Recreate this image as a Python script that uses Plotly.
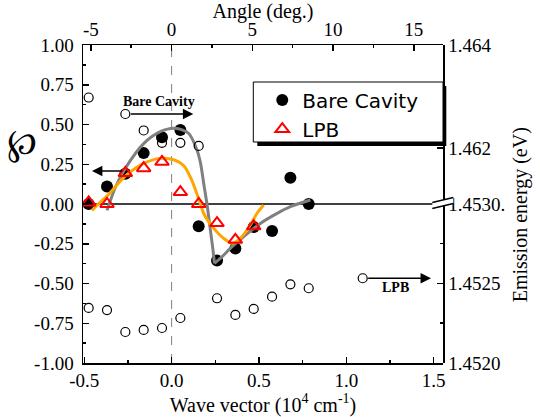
import plotly.graph_objects as go

# ---------------- data ----------------
# polarization degree (left axis) vs wave vector (10^4 cm^-1)
k_bare = [-0.475, -0.37, -0.265, -0.16, -0.055, 0.05, 0.155, 0.26, 0.365, 0.47, 0.575, 0.68, 0.785]
p_bare = [0.0, 0.11, 0.19, 0.32, 0.42, 0.465, -0.14, -0.355, -0.28, -0.145, -0.17, 0.165, 0.0]

k_lpb = [-0.475, -0.37, -0.265, -0.16, -0.055, 0.05, 0.155, 0.26, 0.365, 0.47]
p_lpb = [0.01, 0.0, 0.195, 0.225, 0.265, 0.075, 0.0, -0.12, -0.225, -0.14]

# fitted curves
gray_fall_k = [-0.37, -0.32, -0.265, -0.16, -0.065, 0.02, 0.097, 0.145, 0.165, 0.185, 0.205, 0.222, 0.237, 0.245]
gray_fall_p = [-0.04, 0.11, 0.225, 0.38, 0.455, 0.476, 0.445, 0.34, 0.26, 0.12, -0.02, -0.164, -0.29, -0.373]
gray_rise_k = [0.245, 0.289, 0.346, 0.412, 0.508, 0.604, 0.68, 0.794]
gray_rise_p = [-0.373, -0.331, -0.268, -0.206, -0.122, -0.059, -0.017, 0.025]

orange_k = [-0.456, -0.42, -0.37, -0.265, -0.16, -0.065, 0.02, 0.07, 0.115, 0.165, 0.183,
            0.241, 0.298, 0.346, 0.393, 0.451, 0.489, 0.527]
orange_p = [-0.04, 0.0, 0.05, 0.175, 0.255, 0.287, 0.275, 0.24, 0.15, 0.0, -0.058,
            -0.153, -0.216, -0.247, -0.216, -0.132, -0.058, -0.006]

# emission energies (right axis, eV)
k_bare_E = [-0.475, -0.16, -0.055, 0.05, 0.155]
E_bare = [1.46298, 1.46234, 1.46210, 1.46210, 1.46204]
k_lpb_E = [-0.475, -0.37, -0.265, -0.16, -0.055, 0.05, 0.26, 0.365, 0.47, 0.575, 0.68, 0.785]
E_lpb = [1.452346, 1.452333, 1.452195, 1.452208, 1.452220, 1.452283, 1.452407, 1.452302,
         1.452340, 1.452417, 1.452495, 1.452470]

# axis-indicator arrows (tail marker, head)
bare_arrow_k = [-0.265, 0.124]
bare_arrow_E = 1.46266
lpb_arrow_k = [1.094, 1.485]
lpb_arrow_E = 1.452533
left_arrow_k = [-0.275, -0.456]
left_arrow_p = 0.2075

# tick labels
x_ticks = [-0.5, 0.0, 0.5, 1.0, 1.5]
x_ticktext = ["-0.5", "0.0", "0.5", "1.0", "1.5"]
ang_ticks = [-5, 0, 5, 10, 15]
ang_ticktext = ["-5", "0", "5", "10", "15"]
y_ticks = [-1.0, -0.75, -0.5, -0.25, 0.0, 0.25, 0.5, 0.75, 1.0]
y_ticktext = ["-1.00", "-0.75", "-0.50", "-0.25", "0.00", "0.25", "0.50", "0.75", "1.00"]
e_up_ticks = [1.462, 1.464]
e_up_ticktext = ["1.462", "1.464"]
e_lo_ticks = [1.4520, 1.4525, 1.4530]
e_lo_ticktext = ["1.4520", "1.4525", "1.4530."]

SERIF = "Liberation Serif"
SANS = "DejaVu Sans"
BREAK = 0.5126

fig = go.Figure()

open_marker = dict(symbol="circle-open", size=9, color="black", line=dict(width=1.2, color="black"))
# open circles: energies
fig.add_trace(go.Scatter(x=k_bare_E, y=E_bare, xaxis="x", yaxis="y3", mode="markers",
                         marker=open_marker, showlegend=False))
fig.add_trace(go.Scatter(x=k_lpb_E, y=E_lpb, xaxis="x", yaxis="y4", mode="markers",
                         marker=open_marker, showlegend=False))
fig.add_trace(go.Scatter(x=[bare_arrow_k[0]], y=[bare_arrow_E], xaxis="x", yaxis="y3", mode="markers",
                         marker=open_marker, showlegend=False))
fig.add_trace(go.Scatter(x=[lpb_arrow_k[0]], y=[lpb_arrow_E], xaxis="x", yaxis="y4", mode="markers",
                         marker=open_marker, showlegend=False))

# filled circles
fig.add_trace(go.Scatter(x=k_bare, y=p_bare, mode="markers", name="Bare Cavity",
                         marker=dict(symbol="circle", size=12, color="black")))

# fits
fig.add_trace(go.Scatter(x=gray_fall_k, y=gray_fall_p, mode="lines", showlegend=False,
                         line=dict(color="#808080", width=3, shape="spline", smoothing=0.8)))
fig.add_trace(go.Scatter(x=gray_rise_k, y=gray_rise_p, mode="lines", showlegend=False,
                         line=dict(color="#808080", width=3, shape="spline", smoothing=0.8)))
fig.add_trace(go.Scatter(x=orange_k, y=orange_p, mode="lines", showlegend=False,
                         line=dict(color="#FFA500", width=3, shape="spline", smoothing=0.8)))

# triangles
fig.add_trace(go.Scatter(x=k_lpb, y=p_lpb, mode="markers", name="LPB",
                         marker=dict(symbol="triangle-up-open", size=12, color="#FF0000",
                                     line=dict(width=2, color="#FF0000"))))

# dummy trace to activate the top (angle) axis
fig.add_trace(go.Scatter(x=[ang_ticks[0]], y=[0], xaxis="x2", yaxis="y", mode="markers",
                         marker=dict(opacity=0), showlegend=False, hoverinfo="skip"))

tickfont = dict(family=SERIF, size=19, color="black")
common = dict(showgrid=False, zeroline=False, showline=True, linecolor="black", linewidth=1.5,
              ticks="inside", ticklen=6, tickwidth=1.5, tickcolor="black", tickfont=tickfont,
              automargin=False)
minor_common = dict(ticks="inside", ticklen=3, tickwidth=1.5, tickcolor="black")

fig.update_layout(
    width=540, height=417,
    margin=dict(l=83, r=97, t=45, b=54),
    font=dict(family=SERIF, color="black"),
    paper_bgcolor="white", plot_bgcolor="rgba(0,0,0,0)",
    xaxis=dict(range=[-0.5074, 1.5538], tickvals=x_ticks, ticktext=x_ticktext, anchor="y",
               minor=dict(tickvals=[-0.25, 0.25, 0.75, 1.25], **minor_common),
               title=dict(text="Wave vector (10<sup>4</sup> cm<sup>-1</sup>)",
                          font=dict(family=SERIF, size=20, color="black"), standoff=0),
               **common),
    xaxis2=dict(range=[-5.486, 16.805], overlaying="x", side="top", anchor="y",
                tickvals=ang_ticks, ticktext=ang_ticktext,
                minor=dict(tickvals=[-2.5, 2.5, 7.5, 12.5], **minor_common),
                title=dict(text="Angle (deg.)", font=dict(family=SERIF, size=20, color="black"),
                           standoff=2),
                **common),
    yaxis=dict(range=[-1, 1], domain=[0, 1], tickvals=y_ticks, ticktext=y_ticktext, anchor="x",
               minor=dict(tickvals=[-0.875, -0.625, -0.375, -0.125, 0.125, 0.375, 0.625, 0.875],
                          **minor_common),
               ticklabelstandoff=4,
               **common),
    yaxis3=dict(range=[1.46099, 1.46400001], domain=[BREAK, 1], anchor="x", side="right",
                tickvals=e_up_ticks, ticktext=e_up_ticktext,
                minor=dict(tickvals=[1.463], **minor_common),
                **common),
    yaxis4=dict(range=[1.452, 1.453025], domain=[0, BREAK], anchor="x", side="right",
                tickvals=e_lo_ticks, ticktext=e_lo_ticktext,
                minor=dict(tickvals=[1.45225, 1.45275], **minor_common),
                **common),
    legend=dict(x=0.498, y=0.888, xanchor="left", yanchor="top", bgcolor="rgba(0,0,0,0)",
                borderwidth=0, font=dict(family=SANS, size=20, color="black")),
    hovermode=False,
)

def px2paper(px, py):
    return (px - 82.7) / 360.0, (363.0 - py) / 318.0

shapes = []
# dashed line at k = 0
shapes.append(dict(type="line", xref="x", yref="paper", x0=0, x1=0, y0=0, y1=1,
                   line=dict(color="#808080", width=1, dash="dash"), layer="below"))
# zero line
shapes.append(dict(type="line", xref="paper", yref="y", x0=0, x1=1, y0=0, y1=0,
                   line=dict(color="black", width=1.5), layer="below"))
# legend shadow and box
sx0, sy0 = px2paper(257, 146)
sx1, sy1 = px2paper(446, 86)
shapes.append(dict(type="rect", xref="paper", yref="paper", x0=sx0, x1=sx1, y0=sy0, y1=sy1,
                   fillcolor="black", line=dict(width=0)))
bx0, by0 = px2paper(253, 142)
bx1, by1 = px2paper(442.7, 82)
shapes.append(dict(type="rect", xref="paper", yref="paper", x0=bx0, x1=bx1, y0=by0, y1=by1,
                   fillcolor="white", line=dict(color="black", width=1)))
# axis break marks
a = px2paper(432, 202.5); b = px2paper(453, 197.5)
c = px2paper(453, 203.5); d = px2paper(432, 208.5)
shapes.append(dict(type="path", xref="paper", yref="paper",
                   path=f"M {a[0]},{a[1]} L {b[0]},{b[1]} L {c[0]},{c[1]} L {d[0]},{d[1]} Z",
                   fillcolor="white", line=dict(width=0)))
shapes.append(dict(type="line", xref="paper", yref="paper", x0=a[0], y0=a[1], x1=b[0], y1=b[1],
                   line=dict(color="black", width=1.5)))
shapes.append(dict(type="line", xref="paper", yref="paper", x0=d[0], y0=d[1], x1=c[0], y1=c[1],
                   line=dict(color="black", width=1.5)))
fig.update_layout(shapes=shapes)

ann = []
# arrows
ann.append(dict(x=bare_arrow_k[1], y=bare_arrow_E, xref="x", yref="y3",
                ax=bare_arrow_k[0], ay=bare_arrow_E, axref="x", ayref="y3", text="",
                showarrow=True, arrowhead=2, arrowsize=1.6, arrowwidth=1.3, arrowcolor="black",
                standoff=0, startstandoff=4))
ann.append(dict(x=lpb_arrow_k[1], y=lpb_arrow_E, xref="x", yref="y4",
                ax=lpb_arrow_k[0], ay=lpb_arrow_E, axref="x", ayref="y4", text="",
                showarrow=True, arrowhead=2, arrowsize=1.6, arrowwidth=1.3, arrowcolor="black",
                standoff=0, startstandoff=4))
ann.append(dict(x=left_arrow_k[1], y=left_arrow_p, xref="x", yref="y",
                ax=left_arrow_k[0], ay=left_arrow_p, axref="x", ayref="y", text="",
                showarrow=True, arrowhead=2, arrowsize=1.6, arrowwidth=1.3, arrowcolor="black",
                standoff=0))
tx, ty = px2paper(158.5, 101.7)
ann.append(dict(x=tx, y=ty, xref="paper", yref="paper", text="<b>Bare Cavity</b>", showarrow=False,
                font=dict(family=SERIF, size=14, color="black"), xanchor="center", yanchor="middle"))
tx, ty = px2paper(395, 287)
ann.append(dict(x=tx, y=ty, xref="paper", yref="paper", text="<b>LPB</b>", showarrow=False,
                font=dict(family=SERIF, size=14, color="black"), xanchor="center", yanchor="middle"))
# left axis symbol
tx, ty = px2paper(22, 142)
ann.append(dict(x=tx, y=ty, xref="paper", yref="paper", text="\u2118", showarrow=False,
                font=dict(family="DejaVu Serif", size=36, color="black"), xanchor="center", yanchor="middle"))
# right axis title
tx, ty = px2paper(520, 215)
ann.append(dict(x=tx, y=ty, xref="paper", yref="paper", text="Emission energy (eV)", showarrow=False,
                textangle=-90, font=dict(family=SERIF, size=20, color="black"),
                xanchor="center", yanchor="middle"))
fig.update_layout(annotations=ann)

fig.write_html("out.html", config={"displayModeBar": False, "staticPlot": True},
               post_script="document.body.style.margin='0px';")
